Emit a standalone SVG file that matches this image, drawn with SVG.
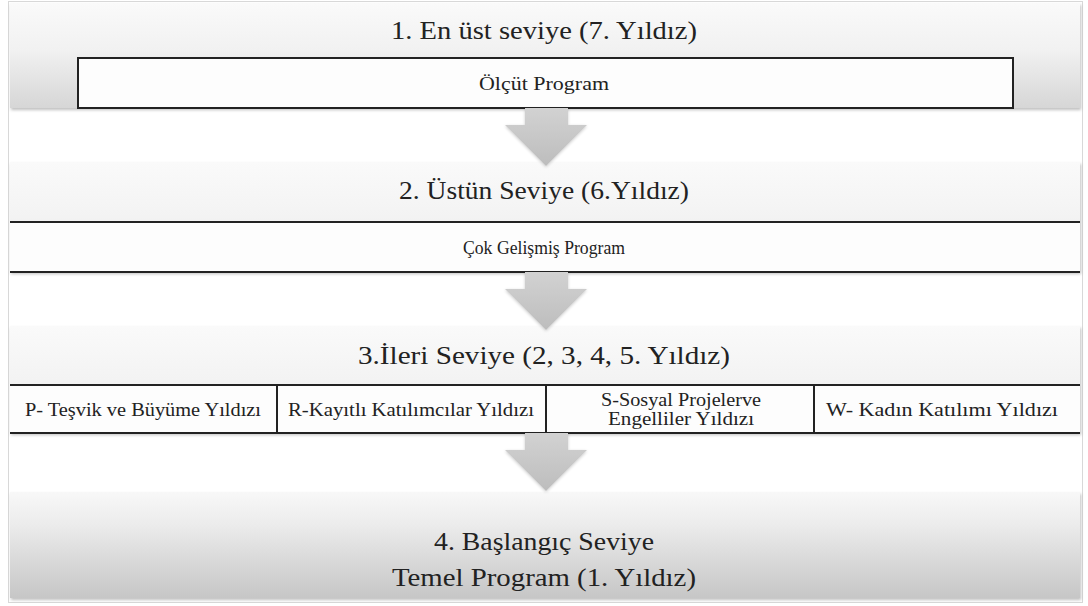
<svg xmlns="http://www.w3.org/2000/svg" width="1088" height="606" viewBox="0 0 1088 606">
<defs>
<linearGradient id="gBand" x1="0" y1="0" x2="0" y2="1">
<stop offset="0" stop-color="#fafafa"/>
<stop offset="0.45" stop-color="#f1f1f1"/>
<stop offset="1" stop-color="#d6d6d6"/>
</linearGradient>
<linearGradient id="gBandS" x1="0" y1="0" x2="0" y2="1">
<stop offset="0" stop-color="#fafafa"/>
<stop offset="0.5" stop-color="#f3f3f3"/>
<stop offset="1" stop-color="#e2e2e2"/>
</linearGradient>
<linearGradient id="gBand4" x1="0" y1="0" x2="0" y2="1">
<stop offset="0" stop-color="#f8f8f8"/>
<stop offset="0.3" stop-color="#ececec"/>
<stop offset="1" stop-color="#c6c6c6"/>
</linearGradient>
<linearGradient id="gArrow" x1="0" y1="0" x2="0" y2="1">
<stop offset="0" stop-color="#d2d2d2"/>
<stop offset="1" stop-color="#bdbdbd"/>
</linearGradient>
<filter id="sh" x="-5%" y="-20%" width="110%" height="140%">
<feDropShadow dx="1" dy="2" stdDeviation="1.5" flood-color="#000" flood-opacity="0.25"/>
</filter>
<filter id="ash" x="-30%" y="-30%" width="160%" height="160%">
<feDropShadow dx="0" dy="1" stdDeviation="1.5" flood-color="#000" flood-opacity="0.2"/>
</filter>
<path id="arrowShape" d="M-21,0 H22 V17 H41 L0,58 L-41,17 H-21 Z"/>
</defs>
<style>
.band{fill:url(#gBand);filter:url(#sh);}
.box{fill:#fdfdfd;stroke:#222;stroke-width:2;}
.line{stroke:#222;stroke-width:2;fill:none;}
.title{font-size:25px;}
.small{font-size:18px;}
.arrow{fill:url(#gArrow);filter:url(#ash);}
</style>
<rect x="8.5" y="1.5" width="1074" height="601" fill="#ffffff" stroke="#d8d8d8" stroke-width="1"/>

<g font-family="'Liberation Serif', 'Times New Roman', serif" fill="#222" text-anchor="middle">
<g id="level1">
<rect class="band" x="10" y="3" width="1070" height="105"/>
<text class="title" x="544" y="39" textLength="306" lengthAdjust="spacingAndGlyphs">1. En üst seviye (7. Yıldız)</text>
</g>
<g id="olcut-program">
<rect class="box" x="78" y="58" width="935" height="50"/>
<text class="small" x="544" y="90" textLength="130" lengthAdjust="spacingAndGlyphs">Ölçüt Program</text>
</g>

<g id="level2">
<rect class="band" x="10" y="162" width="1070" height="110" style="fill:url(#gBandS)"/>
<text class="title" x="544" y="199" textLength="290" lengthAdjust="spacingAndGlyphs">2. Üstün Seviye (6.Yıldız)</text>
</g>
<g id="cok-gelismis-program">
<rect x="10" y="222" width="1070" height="50" fill="#fdfdfd"/>
<line class="line" x1="10" y1="222" x2="1080" y2="222"/>
<line class="line" x1="10" y1="272" x2="1080" y2="272"/>
<text class="small" x="544" y="254" textLength="162" lengthAdjust="spacingAndGlyphs">Çok Gelişmiş Program</text>
</g>

<g id="level3">
<rect class="band" x="10" y="326" width="1070" height="107" style="fill:url(#gBandS)"/>
<text class="title" x="544" y="364" textLength="372" lengthAdjust="spacingAndGlyphs">3.İleri Seviye (2, 3, 4, 5. Yıldız)</text>
</g>
<g id="level3-cells">
<rect x="10" y="385" width="1070" height="48" fill="#fdfdfd"/>
<line class="line" x1="10" y1="385" x2="1080" y2="385"/>
<line class="line" x1="10" y1="433" x2="1080" y2="433"/>
<line class="line" x1="277" y1="385" x2="277" y2="433"/>
<line class="line" x1="546" y1="385" x2="546" y2="433"/>
<line class="line" x1="814" y1="385" x2="814" y2="433"/>
</g>
<g id="cell-p">
<text class="small" x="143" y="416" textLength="236" lengthAdjust="spacingAndGlyphs">P- Teşvik ve Büyüme Yıldızı</text>
</g>
<g id="cell-r">
<text class="small" x="411" y="416" textLength="246" lengthAdjust="spacingAndGlyphs">R-Kayıtlı Katılımcılar Yıldızı</text>
</g>
<g id="cell-s">
<text class="small" x="681" y="406" textLength="160" lengthAdjust="spacingAndGlyphs">S-Sosyal Projelerve</text>
<text class="small" x="681" y="425" textLength="146" lengthAdjust="spacingAndGlyphs">Engelliler Yıldızı</text>
</g>
<g id="cell-w">
<text class="small" x="942" y="416" textLength="232" lengthAdjust="spacingAndGlyphs">W- Kadın Katılımı Yıldızı</text>
</g>

<g id="level4">
<rect class="band" x="10" y="492" width="1070" height="106" style="fill:url(#gBand4)"/>
<text class="title" x="544" y="550" textLength="220" lengthAdjust="spacingAndGlyphs">4. Başlangıç Seviye</text>
<text class="title" x="544" y="586" textLength="304" lengthAdjust="spacingAndGlyphs">Temel Program (1. Yıldız)</text>
</g>
</g>

<g id="connectors">
<use href="#arrowShape" class="arrow" transform="translate(546,108)"/>
<use href="#arrowShape" class="arrow" transform="translate(546,272)"/>
<use href="#arrowShape" class="arrow" transform="translate(546,433)"/>
</g>
</svg>
